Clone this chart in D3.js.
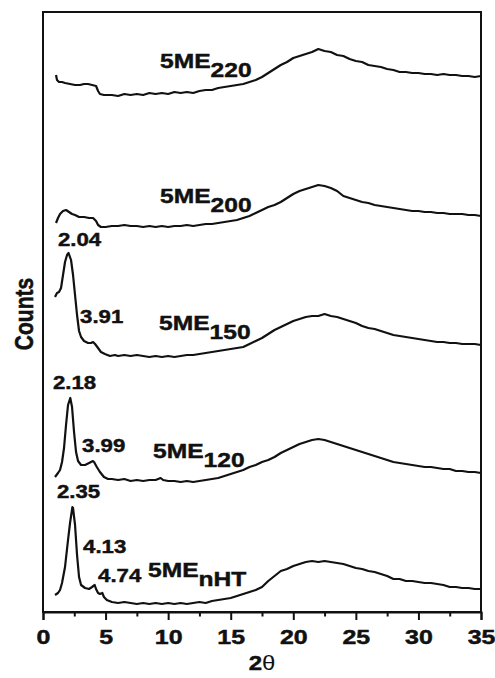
<!DOCTYPE html>
<html><head><meta charset="utf-8">
<script src="https://cdn.jsdelivr.net/npm/d3@7"></script>
<style>body{margin:0;background:#fff}svg{display:block}text{font-family:"Liberation Sans",Arial,sans-serif;font-weight:bold;fill:#111;stroke:#111;stroke-width:0.45px}</style>
</head><body>
<svg id="c" width="495" height="678"></svg>
<script>
// XRD patterns (2θ, counts — curves already stacked)
const sampleNames = ["220", "200", "150", "120", "nHT"];
const xTicks = [0, 5, 10, 15, 20, 25, 30, 35];
const xMinorTicks = [2.5, 7.5, 12.5, 17.5, 22.5, 27.5, 32.5];

const s220 = [[1.04,537],[1.12,532],[1.28,530],[1.52,530],[1.76,529],[2.16,528],[2.56,527],[2.96,527],[3.28,528],[3.6,528],[3.92,527],[4.24,526],[4.4,521],[4.55,518],[4.87,517],[5.2,517],
 [5.5,517],[6,516],[6.5,518],[7,517],[7.5,518],[8,517],[8.5,519],[9,518],[9.5,519],[10,518],[10.5,520],[11,519],[11.5,520],[12,519],[12.5,521],[13,522],[13.5,522],[14,524],[14.5,525],[15,526],[15.5,527],[16,528],[16.5,530],[17,532],[17.5,535],[18,539],[18.5,543],[19,547],[19.5,550],[20,554],[20.5,556],[21,558],[21.5,560],[22,563],[22.5,561],[23,560],[23.5,557],[24,556],[24.5,553],[25,551],[25.5,550],[26,547],[26.5,546],[27,545],[27.5,543],[28,542],[28.5,540],[29,540],[29.5,539],[30,539],[30.5,538],[31,538],[31.5,537],[32,538],[32.5,537],[33,537],[33.5,536],[34,536],[34.5,535],[35,536]];

const s200 = [[1.04,389],[1.2,394],[1.36,398],[1.6,401],[1.84,402],[2.08,400],[2.32,398],[2.56,397],[2.88,395],[3.28,395],[3.68,394],[4.0,394],[4.24,391],[4.4,387],[4.63,385],[5.0,385],
 [5.5,386],[6,386],[6.5,387],[7,386],[7.5,386],[8,385],[8.5,386],[9,385],[9.5,386],[10,385],[10.5,386],[11,386],[11.5,387],[12,386],[12.5,387],[13,388],[13.5,388],[14,389],[14.5,390],[15,391],[15.5,392],[16,394],[16.5,396],[17,399],[17.5,402],[18,405],[18.5,407],[19,410],[19.5,414],[20,418],[20.5,421],[21,423],[21.5,425],[22,427],[22.5,426],[23,424],[23.5,421],[24,416],[24.5,414],[25,412],[25.5,410],[26,409],[26.5,407],[27,406],[27.5,405],[28,404],[28.5,403],[29,402],[29.5,401],[30,401],[30.5,400],[31,400],[31.5,399],[32,399],[32.5,398],[33,398],[33.5,398],[34,397],[34.5,397],[35,396]];

const s150 = [[0.96,315],[1.12,319],[1.28,320],[1.44,324],[1.6,337],[1.76,350],[1.92,357],[2.04,359],[2.24,352],[2.4,337],[2.56,317],[2.72,297],[2.88,281],[3.04,275],[3.28,271],[3.6,269],[3.84,269],[4.0,270],[4.16,268],[4.4,264],[4.63,260],[4.95,258],[5.35,256],
 [5.75,257],[6,256],[6.5,257],[7,256],[7.5,257],[8,256],[8.5,255],[9,256],[9.5,255],[10,256],[10.5,255],[11,256],[11.5,257],[12,257],[12.5,258],[13,259],[13.5,260],[14,261],[14.5,262],[15,263],[15.5,264],[16,265],[16.5,268],[17,271],[17.5,274],[18,278],[18.5,282],[19,285],[19.5,288],[20,291],[20.5,293],[21,295],[21.5,296],[22,296],[22.5,298],[23,296],[23.5,295],[24,293],[24.5,291],[25,289],[25.5,286],[26,284],[26.5,283],[27,281],[27.5,279],[28,277],[28.5,276],[29,275],[29.5,274],[30,273],[30.5,272],[31,271],[31.5,270],[32,270],[32.5,269],[33,269],[33.5,268],[34,268],[34.5,268],[35,267]];

const s120 = [[0.96,135],[1.2,139],[1.36,142],[1.52,150],[1.68,164],[1.84,187],[2.0,207],[2.18,214],[2.32,205],[2.48,180],[2.64,160],[2.8,151],[3.04,147],[3.36,147],[3.68,149],[3.99,151],[4.08,150],[4.3,145],[4.55,140],[4.87,135],[5.2,133],
 [5.5,133],[6,132],[6.5,133],[7,131],[7.5,132],[8,131],[8.5,132],[9,132],[9.4,134],[9.6,132],[10,131],[10.5,131],[11,130],[11.5,131],[12,130],[12.5,131],[13,132],[13.5,133],[14,134],[14.5,136],[15,138],[15.5,140],[16,142],[16.5,145],[17,147],[17.5,150],[18,152],[18.5,155],[19,159],[19.5,162],[20,165],[20.5,168],[21,170],[21.5,172],[22,173],[22.5,172],[23,170],[23.5,168],[24,166],[24.5,164],[25,162],[25.5,160],[26,158],[26.5,156],[27,154],[27.5,152],[28,150],[28.5,149],[29,148],[29.5,147],[30,146],[30.5,145],[31,145],[31.5,144],[32,143],[32.5,143],[33,141],[33.5,141],[34,140],[34.5,140],[35,139]];

const sNHT = [[0.96,17],[1.2,19],[1.36,22],[1.52,29],[1.76,45],[2.0,72],[2.16,89],[2.35,105],[2.4,104],[2.56,87],[2.72,57],[2.88,35],[3.04,27],[3.36,24],[3.68,23],[3.92,25],[4.13,27],[4.24,23],[4.4,19],[4.55,18],[4.74,19],[4.87,15],[5.1,12],[5.5,10],
 [6,9],[6.5,10],[7,9],[7.5,8],[8,9],[8.5,8],[9,9],[9.5,8],[10,9],[10.5,8],[11,9],[11.5,8],[12,9],[12.5,10],[13,9],[13.5,11],[14,12],[14.5,13],[15,14],[15.5,16],[16,18],[16.5,20],[17,22],[17.5,25],[18,31],[18.5,36],[19,41],[19.5,43],[20,46],[20.5,48],[21,50],[21.5,51],[22,50],[22.5,51],[23,50],[23.5,49],[24,48],[24.5,46],[25,44],[25.5,43],[26,41],[26.5,40],[27,38],[27.5,36],[28,33],[28.5,33],[29,31],[29.5,31],[30,30],[30.5,29],[31,29],[31.5,28],[32,27],[32.5,25],[33,25],[33.5,24],[34,24],[34.5,23],[35,23]];

const series = [s220, s200, s150, s120, sNHT];
const peakLabels = ["2.04", "3.91", "2.18", "3.99", "2.35", "4.13", "4.74"];

const svg = d3.select("#c");
const m = {l: 43, t: 12, r: 481, b: 612};
const x = d3.scaleLinear().domain([0, 35]).range([m.l, m.r]);
const y = d3.scaleLinear().domain([0, 600]).range([m.b, m.t]);
const SX = 1.2;

// frame
svg.append("rect").attr("x", m.l).attr("y", m.t).attr("width", m.r - m.l).attr("height", m.b - m.t)
  .attr("fill", "none").attr("stroke", "#111").attr("stroke-width", 2);

// x axis
const ax = svg.append("g").attr("transform", `translate(0,${m.b})`)
  .call(d3.axisBottom(x).tickValues(xTicks).tickSize(8).tickPadding(10).tickFormat(d3.format("d")));
ax.select(".domain").attr("stroke", "#111").attr("stroke-width", 2);
ax.selectAll(".tick line").attr("stroke", "#111").attr("stroke-width", 2);
ax.selectAll(".tick text").attr("font-size", 19.5).attr("font-family", "Liberation Sans, Arial, sans-serif")
  .attr("font-weight", "bold").attr("fill", "#111").attr("transform", `scale(1.28,1)`);
const axm = svg.append("g").attr("transform", `translate(0,${m.b})`)
  .call(d3.axisBottom(x).tickValues(xMinorTicks).tickSize(4.5).tickFormat(""));
axm.select(".domain").remove();
axm.selectAll(".tick line").attr("stroke", "#111").attr("stroke-width", 2);

// curves
const line = d3.line().x(d => x(d[0])).y(d => y(d[1]));
svg.selectAll("path.curve").data(series).join("path").attr("class", "curve")
  .attr("d", line).attr("fill", "none").attr("stroke", "#111").attr("stroke-width", 2.2).attr("stroke-linejoin", "round");

function label(xd, yd, size) {
  return svg.append("text").attr("font-size", size)
    .attr("transform", `translate(${x(xd)},${y(yd)}) scale(${SX},1)`);
}
// peak labels
const peakPos = [[1.2, 366], [2.96, 289], [0.8, 223], [3.12, 160], [1.12, 114], [3.2, 59], [4.4, 30]];
peakLabels.forEach((t, i) => label(peakPos[i][0], peakPos[i][1], 18.5).text(t));

// sample name labels
const namePos = [[9.35, 544], [9.35, 409], [9.27, 282], [8.79, 154], [8.39, 35]];
sampleNames.forEach((n, i) => {
  const t = label(namePos[i][0], namePos[i][1], 20.5);
  t.append("tspan").text("5ME");
  t.append("tspan").attr("dy", 9).text(n);
});

// axis titles
svg.append("text").attr("font-size", 20).attr("text-anchor", "middle")
  .attr("transform", `translate(${(m.l + m.r) / 2},670) scale(${SX},1)`)
  .call(t => { t.append("tspan").text("2"); t.append("tspan").attr("font-weight", "normal").attr("stroke-width", 0).text("θ"); });
svg.append("text").attr("font-size", 21).attr("text-anchor", "middle")
  .attr("transform", `translate(33,314) scale(1.26,1) rotate(-90)`).text("Counts");
</script>
</body></html>
